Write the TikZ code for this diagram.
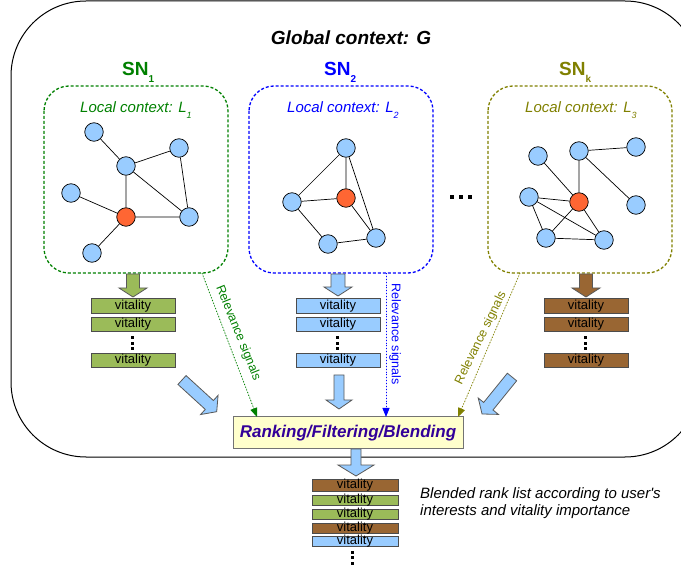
\documentclass[tikz,border=0pt]{standalone}
\usepackage{fontspec}
\setmainfont{Liberation Sans}
\newfontfamily\capfont{Liberation Sans}
\usetikzlibrary{arrows.meta}
\definecolor{sngreen}{HTML}{008000}
\definecolor{snblue}{HTML}{0000FF}
\definecolor{snolive}{HTML}{808000}
\definecolor{vitgreen}{HTML}{9BBB59}
\definecolor{vitblue}{HTML}{99CCFF}
\definecolor{vitbrown}{HTML}{996633}
\definecolor{nodeblue}{HTML}{99CCFF}
\definecolor{nodered}{HTML}{FF6633}
\definecolor{rankfill}{HTML}{FFFFCC}
\definecolor{ranktext}{HTML}{330099}
\newcommand{\myfs}[1]{\fontsize{#1}{#1}\selectfont}
% fill, start, angle, length, shaft half width, head half width, head length
\newcommand{\fatarr}[7]{%
  \begin{scope}[shift={#2},rotate=#3]
    \filldraw[fill=#1,draw=black!65,line width=0.8pt,line join=miter]
      (0,#5) -- ({#4-#7},#5) -- ({#4-#7},#6) -- (#4,0) -- ({#4-#7},-#6) -- ({#4-#7},-#5) -- (0,-#5) -- cycle;
  \end{scope}}
\begin{document}
\begin{tikzpicture}[x=1pt,y=-1pt,
  gn/.style={circle,draw=black,line width=0.7pt,fill=nodeblue,minimum size=18.5pt,inner sep=0pt},
  rn/.style={gn,fill=nodered},
  ge/.style={line width=0.7pt},
  lbox/.style={line width=1.3pt,dash pattern=on 3pt off 2pt,rounded corners=25pt},
  vit/.style={draw=black!70,line width=1pt,minimum width=84pt,minimum height=14.5pt,inner sep=0pt,font=\myfs{13}},
  svit/.style={draw=black!70,line width=1pt,minimum width=86pt,inner sep=0pt,text height=8pt,text depth=2pt,font=\myfs{13}},
  rel/.style={dotted,line width=0.9pt,-{Triangle[length=9pt,width=7pt]}},
  sq/.style={fill=black,minimum size=3pt,inner sep=0pt},
  bsq/.style={fill=black,minimum size=4.5pt,inner sep=0pt},
  loc/.style={anchor=base west,inner sep=0pt,font=\myfs{15}\itshape},
  snl/.style={anchor=base west,inner sep=0pt,font=\myfs{19}\bfseries},
  rl/.style={inner sep=0pt,font=\myfs{12.5}}]
\useasboundingbox (0,0) rectangle (681,572);
\clip (0,0) rectangle (681,572);

% global context
\draw[line width=1pt,rounded corners=75pt] (11,1) rectangle (700,457);
\node[anchor=base,inner sep=0pt,font=\myfs{19}\bfseries\itshape] (title) at (351,45) {Global context: G};

% SN labels
\node[snl,text=sngreen] (sn1) at (122,76) {SN\raisebox{-7pt}{\myfs{10}1}};
\node[snl,text=snblue] (sn2) at (324,76) {SN\raisebox{-7pt}{\myfs{10}2}};
\node[snl,text=snolive] (snk) at (559,76) {SN\raisebox{-7pt}{\myfs{10}k}};

% local boxes
\draw[lbox,draw=sngreen] (44,86) rectangle (228,273);
\draw[lbox,draw=snblue] (249,86) rectangle (433,273);
\draw[lbox,draw=snolive] (488,86) rectangle (672,273);

\node[loc,text=sngreen] (l1) at (80,113) {Local context: L\raisebox{-6pt}{\myfs{9}1}};
\node[loc,text=snblue] (l2) at (287,113) {Local context: L\raisebox{-6pt}{\myfs{9}2}};
\node[loc,text=snolive] (l3) at (525,113) {Local context: L\raisebox{-6pt}{\myfs{9}3}};

% graph 1
\node[gn] (a1) at (94,132) {};
\node[gn] (b1) at (179,148) {};
\node[gn] (c1) at (126,166) {};
\node[gn] (d1) at (71,193) {};
\node[rn] (e1) at (126,217) {};
\node[gn] (f1) at (189,217) {};
\node[gn] (g1) at (92,253) {};
\draw[ge] (a1)--(c1) (c1)--(b1) (c1)--(e1) (c1)--(f1) (b1)--(f1) (d1)--(e1) (e1)--(f1) (e1)--(g1);

% graph 2
\node[gn] (a2) at (346,148) {};
\node[gn] (b2) at (292,202) {};
\node[rn] (r2) at (346,198) {};
\node[gn] (c2) at (376,238) {};
\node[gn] (d2) at (328,244) {};
\draw[ge] (a2)--(b2) (a2)--(r2) (a2)--(c2) (b2)--(r2) (b2)--(d2) (r2)--(c2) (d2)--(c2);

% graph 3
\node[gn] (a3) at (538,156) {};
\node[gn] (b3) at (579,151) {};
\node[gn] (c3) at (636,147) {};
\node[gn] (d3) at (529,197) {};
\node[rn] (r3) at (579,202) {};
\node[gn] (e3) at (636,205) {};
\node[gn] (f3) at (546,238) {};
\node[gn] (g3) at (604,240) {};
\draw[ge] (a3)--(r3) (b3)--(r3) (b3)--(c3) (b3)--(e3) (d3)--(r3) (d3)--(f3) (d3)--(g3) (r3)--(f3) (r3)--(g3) (f3)--(g3);

% ellipsis between boxes
\node[bsq] (e1dot) at (452,197) {};
\node[bsq] (e2dot) at (461,197) {};
\node[bsq] (e3dot) at (470,197) {};

% arrows into stacks
\fatarr{vitgreen}{(133,274)}{-90}{23}{6.5}{14}{9}
\fatarr{vitblue}{(338,274)}{-90}{22}{7}{14}{9}
\fatarr{vitbrown}{(586,274)}{-90}{23}{6.5}{14}{9}

% stacks
\node[vit,fill=vitgreen] (v11) at (133,306) {vitality};
\node[vit,fill=vitgreen] (v12) at (133,324.5) {vitality};
\node[vit,fill=vitgreen] (v13) at (133,360.5) {vitality};
\node[sq] (v1d1) at (132,338) {};
\node[sq] (v1d2) at (132,343.5) {};
\node[sq] (v1d3) at (132,349) {};

\node[vit,fill=vitblue] (v21) at (338,306) {vitality};
\node[vit,fill=vitblue] (v22) at (338,324.5) {vitality};
\node[vit,fill=vitblue] (v23) at (338,360.5) {vitality};
\node[sq] (v2d1) at (337,338) {};
\node[sq] (v2d2) at (337,343.5) {};
\node[sq] (v2d3) at (337,349) {};

\node[vit,fill=vitbrown] (v31) at (586,306) {vitality};
\node[vit,fill=vitbrown] (v32) at (586,324.5) {vitality};
\node[vit,fill=vitbrown] (v33) at (586,360.5) {vitality};
\node[sq] (v3d1) at (585,338) {};
\node[sq] (v3d2) at (585,343.5) {};
\node[sq] (v3d3) at (585,349) {};

% arrows into ranking
\fatarr{vitblue}{(182,380)}{-42.4}{47}{6}{13}{10}
\fatarr{vitblue}{(339,375)}{-90}{34}{5}{13}{9}
\fatarr{vitblue}{(512,377)}{-129}{47.6}{6}{13}{10}

% ranking box
\node[draw=black!55,fill=rankfill,line width=1pt,minimum width=230pt,minimum height=32pt,inner sep=0pt,
      font=\myfs{17}\bfseries\itshape,text=ranktext] (rank) at (348,433) {Ranking/Filtering/Blending};

% relevance signals
\coordinate (r1s) at (202,273);
\coordinate (r1e) at (257,417);
\coordinate (r2s) at (386,273);
\coordinate (r2e) at (386,417);
\coordinate (r3s) at (520,273);
\coordinate (r3e) at (458,417);
\draw[rel,draw=sngreen,fill=sngreen] (r1s) -- (r1e);
\draw[rel,draw=snblue,fill=snblue] (r2s) -- (r2e);
\draw[rel,draw=snolive,fill=snolive] (r3s) -- (r3e);
\node[rl,rotate=-68,text=sngreen] (rl1) at (238,333) {Relevance signals};
\node[rl,rotate=-90,text=snblue] (rl2) at (395,334) {Relevance signals};
\node[rl,rotate=64,text=snolive] (rl3) at (481,338) {Relevance signals};

% output arrow
\fatarr{vitblue}{(356,449)}{-90}{27}{5}{18}{11}

% blended list
\node[svit,fill=vitbrown,minimum height=12pt] (o1) at (355,485) {vitality};
\node[svit,fill=vitgreen,minimum height=9.5pt] (o2) at (355,500.5) {vitality};
\node[svit,fill=vitgreen,minimum height=9.5pt] (o3) at (355,514.5) {vitality};
\node[svit,fill=vitbrown,minimum height=9.5pt] (o4) at (355,528.5) {vitality};
\node[svit,fill=vitblue,minimum height=10pt] (o5) at (355,541) {vitality};
\node[sq] (od1) at (352,552) {};
\node[sq] (od2) at (352,557.5) {};
\node[sq] (od3) at (352,563) {};

\node[anchor=base west,inner sep=0pt,font=\capfont\myfs{15}\itshape] (cap1) at (420,498) {Blended rank list according to user's};
\node[anchor=base west,inner sep=0pt,font=\capfont\myfs{15}\itshape] (cap2) at (420,515) {interests and vitality importance};
\end{tikzpicture}
\end{document}
